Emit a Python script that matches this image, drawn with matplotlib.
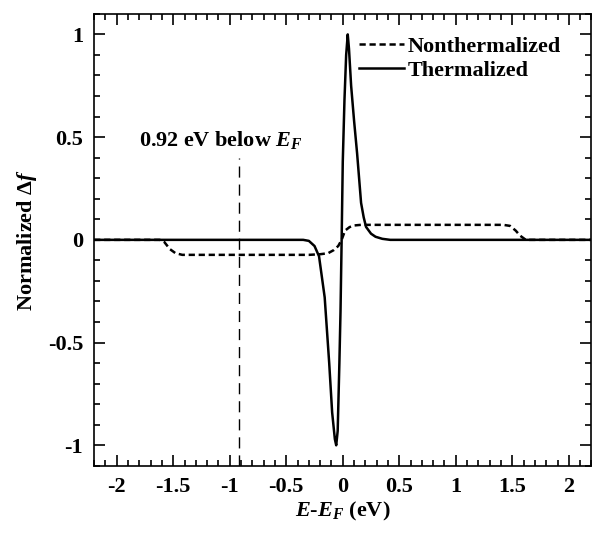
import matplotlib
matplotlib.use("Agg")
import matplotlib.pyplot as plt
from matplotlib.ticker import MultipleLocator

plt.rcParams['font.family'] = 'Liberation Serif'
plt.rcParams['font.weight'] = 'bold'
plt.rcParams['axes.labelweight'] = 'bold'
plt.rcParams['mathtext.fontset'] = 'custom'
plt.rcParams['mathtext.rm'] = 'Liberation Serif:bold'
plt.rcParams['mathtext.it'] = 'Liberation Serif:italic:bold'
plt.rcParams['mathtext.bf'] = 'Liberation Serif:bold'

# thermalized distribution change
therm_x = [-2.2, -0.35, -0.3, -0.25, -0.21, -0.16, -0.12, -0.094, -0.07, -0.058,
           -0.045, -0.03, -0.02, -0.01, 0.0, 0.015, 0.03, 0.044, 0.055, 0.074,
           0.1, 0.127, 0.162, 0.185, 0.206, 0.25, 0.29, 0.35, 0.42, 2.2]
therm_y = [0, 0, -0.005, -0.03, -0.08, -0.28, -0.6, -0.84, -0.97, -1.0,
           -0.93, -0.6, -0.35, 0.0, 0.38, 0.68, 0.9, 1.0, 0.93, 0.75,
           0.58, 0.42, 0.18, 0.11, 0.063, 0.03, 0.015, 0.005, 0, 0]

# nonthermalized distribution change
nonth_x = [-2.2, -1.62, -1.58, -1.53, -1.48, -1.42, -0.3, -0.2, -0.13, -0.08,
           -0.04, -0.01, 0.02, 0.06, 0.1, 0.16, 1.42, 1.48, 1.53, 1.57, 1.62, 2.2]
nonth_y = [0, 0, -0.01, -0.045, -0.065, -0.073, -0.073, -0.07, -0.065, -0.05,
           -0.03, 0.0, 0.045, 0.062, 0.07, 0.073, 0.073, 0.068, 0.045, 0.02, 0, 0]

marker_e = -0.92

fig = plt.figure(figsize=(5.92, 5.33), dpi=100)
ax = fig.add_axes([0.159, 0.126, 0.840, 0.848])

ax.plot(nonth_x, nonth_y, color='black', lw=1.8, ls=(0, (2.5, 1.5)),
        label='Nonthermalized')
ax.plot(therm_x, therm_y, color='black', lw=1.8, label='Thermalized')
ax.plot([marker_e, marker_e], [-1.1, 0.4], color='black', lw=1.0,
        ls=(0, (8, 5)))

ax.text(-1.80, 0.457, '0.92 eV below $E_F$', fontsize=16, fontweight='bold',
        ha='left', va='baseline')

ax.set_xlim(-2.2, 2.2)
ax.set_ylim(-1.1, 1.1)
ax.xaxis.set_minor_locator(MultipleLocator(0.1))
ax.yaxis.set_minor_locator(MultipleLocator(0.1))
ax.set_xticks([-2, -1.5, -1, -0.5, 0, 0.5, 1, 1.5, 2])
ax.set_xticklabels(['-2', '-1.5', '-1', '-0.5', '0', '0.5', '1', '1.5', '2'])
ax.set_yticks([-1, -0.5, 0, 0.5, 1])
ax.set_yticklabels(['-1', '-0.5', '0', '0.5', '1'])
ax.tick_params(which='both', direction='in', top=True, right=True,
               labelsize=16, width=1.2)
ax.tick_params(which='major', length=8, pad=8)
ax.tick_params(which='minor', length=4)
for s in ax.spines.values():
    s.set_linewidth(1.2)

ax.set_xlabel('$E$-$E_F$ (eV)', fontsize=16, fontweight='bold', labelpad=2)
ax.set_ylabel('Normalized $\\mathit{\\Delta f}$', fontsize=16,
              fontweight='bold', labelpad=6)

ax.legend(loc='upper left', bbox_to_anchor=(0.515, 0.97), frameon=False,
          fontsize=16, handlelength=2.0, handletextpad=0.2,
          labelspacing=0.15, borderaxespad=0)

fig.savefig('out.png', dpi=100)
